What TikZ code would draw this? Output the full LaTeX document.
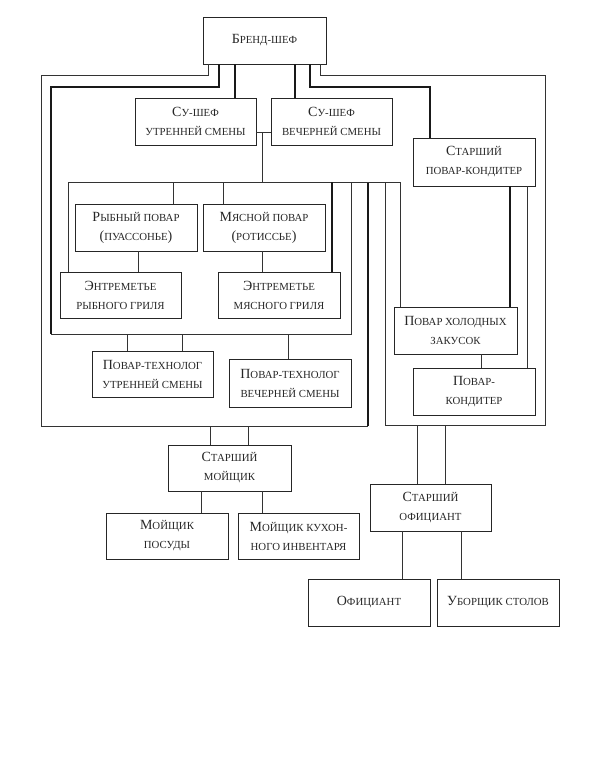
\documentclass[tikz,border=0pt]{standalone}
\usepackage{fontspec}
\setmainfont{Liberation Serif}
\usepackage{tikz}
\usetikzlibrary{positioning}

\newcommand{\ini}[1]{{\fontsize{14}{19}\selectfont #1}}

\begin{document}
\begin{tikzpicture}[x=1pt,y=-1pt]
\tikzstyle{every node}+=[inner sep=0pt]
\tikzstyle{box}=[draw=black!85, line width=0.8pt, minimum width=121pt, minimum height=47pt, align=center, text=black!85, font=\fontsize{10.8}{19}\selectfont]
\tikzstyle{thin}=[draw=black!80, line width=0.8pt]
\tikzstyle{heavy}=[draw=black!90, line width=1.7pt]
\useasboundingbox (0,0) rectangle (596,768);
\node [box, minimum width=123pt] (brand) at (264.5,40.5) {\ini{Б}РЕНД-ШЕФ};
\node [box] (su1) at (195.5,121.5) {\ini{С}У-ШЕФ\\УТРЕННЕЙ СМЕНЫ};
\node [box] (su2) at (331.5,121.5) {\ini{С}У-ШЕФ\\ВЕЧЕРНЕЙ СМЕНЫ};
\node [box, minimum width=122pt, minimum height=48pt] (pastryhead) at (474,162) {\ini{С}ТАРШИЙ\\ПОВАР-КОНДИТЕР};
\node [box, minimum width=122pt] (fish) at (136,227.5) {\ini{Р}ЫБНЫЙ ПОВАР\\\ini{(}ПУАССОНЬЕ\ini{)}};
\node [box, minimum width=122pt] (meat) at (264,227.5) {\ini{М}ЯСНОЙ ПОВАР\\\ini{(}РОТИССЬЕ\ini{)}};
\node [box, minimum height=46pt] (fishgrill) at (120.5,295) {\ini{Э}НТРЕМЕТЬЕ\\РЫБНОГО ГРИЛЯ};
\node [box, minimum width=122pt, minimum height=46pt] (meatgrill) at (279,295) {\ini{Э}НТРЕМЕТЬЕ\\МЯСНОГО ГРИЛЯ};
\node [box, minimum width=123pt] (cold) at (455.5,330.5) {\ini{П}ОВАР ХОЛОДНЫХ\\ЗАКУСОК};
\node [box, minimum height=46pt] (tech1) at (152.5,374) {\ini{П}ОВАР-ТЕХНОЛОГ\\УТРЕННЕЙ СМЕНЫ};
\node [box, minimum width=122pt, minimum height=48pt] (tech2) at (290,383) {\ini{П}ОВАР-ТЕХНОЛОГ\\ВЕЧЕРНЕЙ СМЕНЫ};
\node [box, minimum width=122pt] (pastry) at (474,391.5) {\ini{П}ОВАР-\\КОНДИТЕР};
\node [box, minimum width=123pt, minimum height=46pt] (washhead) at (229.5,468) {\ini{С}ТАРШИЙ\\МОЙЩИК};
\node [box] (waiterhead) at (430.5,507.5) {\ini{С}ТАРШИЙ\\ОФИЦИАНТ};
\node [box, minimum width=122pt, minimum height=46pt] (dish) at (167,536) {\ini{М}ОЙЩИК\\ПОСУДЫ};
\node [box, minimum height=46pt] (tools) at (298.5,536) {\ini{М}ОЙЩИК КУХОН-\\НОГО ИНВЕНТАРЯ};
\node [box, minimum width=122pt] (waiter) at (369,602.5) {\ini{О}ФИЦИАНТ};
\node [box, minimum width=122pt] (tables) at (498,602.5) {\ini{У}БОРЩИК СТОЛОВ};
\coordinate (bus) at (0,182);
\coordinate (techbus) at (0,334);
\coordinate (washbus) at (0,426);
\coordinate (waitbus) at (0,425);
\coordinate (sumid) at (262,132);
\draw [heavy] (brand.south -| 235,0) -- (su1.north -| 235,0);
\draw [heavy] (brand.south -| 295,0) -- (su2.north -| 295,0);
\draw [heavy] (brand.south -| 219,0) |- (51,87) -- (techbus -| 51,0);
\draw [heavy] (brand.south -| 310,0) |- (430,87) -- (pastryhead.north -| 430,0);
\draw [thin] (brand.south -| 208,0) |- (41,75) |- (washbus -| 368,0);
\draw [heavy] (washbus -| 368,0) -- (bus -| 368,0);
\draw [thin] (brand.south -| 320,0) |- (545,75) |- (waitbus -| 385,0) -- (bus -| 385,0);
\draw [thin] (techbus -| 51,0) -| (bus -| 351,0);
\draw [thin] (su1.east |- sumid) -- (su2.west |- sumid);
\draw [thin] (sumid) -- (bus -| sumid);
\draw [thin] (bus -| 68,0) -- (bus -| 400,0);
\draw [thin] (bus -| 68,0) -- (fishgrill.north -| 68,0);
\draw [thin] (bus -| 173,0) -- (fish.north -| 173,0);
\draw [thin] (bus -| 223,0) -- (meat.north -| 223,0);
\draw [heavy] (bus -| 332,0) -- (meatgrill.north -| 332,0);
\draw [thin] (bus -| 400,0) -- (cold.north -| 400,0);
\draw [thin] (fish.south -| 138,0) -- (fishgrill.north -| 138,0);
\draw [thin] (meat.south -| 262,0) -- (meatgrill.north -| 262,0);
\draw [heavy] (pastryhead.south -| 510,0) -- (cold.north -| 510,0);
\draw [thin] (pastryhead.south -| 527,0) -- (pastry.north -| 527,0);
\draw [thin] (cold.south -| 481,0) -- (pastry.north -| 481,0);
\draw [thin] (techbus -| 127,0) -- (tech1.north -| 127,0);
\draw [thin] (techbus -| 182,0) -- (tech1.north -| 182,0);
\draw [thin] (techbus -| 288,0) -- (tech2.north -| 288,0);
\draw [thin] (washbus -| 210,0) -- (washhead.north -| 210,0);
\draw [thin] (washbus -| 248,0) -- (washhead.north -| 248,0);
\draw [thin] (waitbus -| 417,0) -- (waiterhead.north -| 417,0);
\draw [thin] (waitbus -| 445,0) -- (waiterhead.north -| 445,0);
\draw [thin] (washhead.south -| 201,0) -- (dish.north -| 201,0);
\draw [thin] (washhead.south -| 262,0) -- (tools.north -| 262,0);
\draw [thin] (waiterhead.south -| 402,0) -- (waiter.north -| 402,0);
\draw [thin] (waiterhead.south -| 461,0) -- (tables.north -| 461,0);
\end{tikzpicture}
\end{document}
